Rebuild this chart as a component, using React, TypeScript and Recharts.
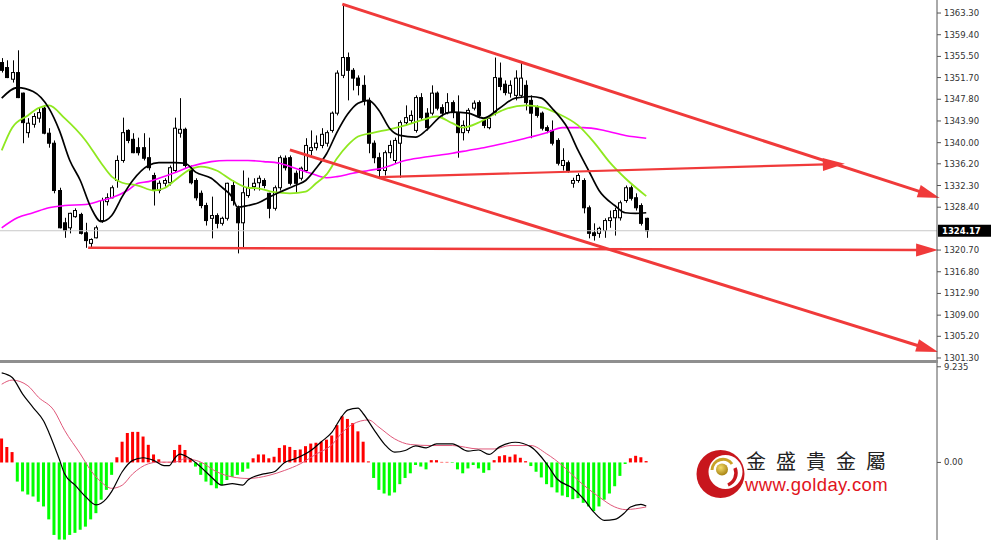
import React from 'react'
import { ComposedChart, Bar, Line, XAxis, YAxis, ReferenceLine, Cell } from 'recharts'

// candle OHLC, one entry per bar (left to right)
const opens = [
  1354.4, 1353.5, 1351.4, 1352.6, 1348.9, 1341.8, 1343.3, 1344.4, 1346.2, 1341.7,
  1339.9, 1331.4, 1325.6, 1324.7, 1326.7, 1327.1, 1323.8, 1321.9, 1322.9, 1326.0,
  1329.4, 1330.1, 1333.2, 1336.8, 1342.2, 1340.6, 1339.1, 1339.1, 1337.3, 1334.1,
  1331.4, 1332.7, 1332.8, 1335.0, 1341.7, 1342.4, 1335.0, 1333.2, 1330.9, 1328.7,
  1326.4, 1326.9, 1325.5, 1326.4, 1332.3, 1328.2, 1325.6, 1330.5, 1332.1, 1332.8,
  1333.2, 1330.9, 1328.2, 1331.9, 1337.2, 1337.3, 1334.5, 1333.6, 1335.0, 1338.6,
  1339.1, 1339.5, 1339.9, 1342.2, 1345.3, 1352.1, 1355.3, 1353.0, 1351.6, 1350.3,
  1347.6, 1339.9, 1337.3, 1335.0, 1338.2, 1336.8, 1339.9, 1343.6, 1344.0, 1342.2,
  1348.1, 1345.3, 1345.3, 1348.9, 1346.3, 1345.4, 1347.2, 1345.4, 1341.8, 1342.2,
  1346.2, 1347.2, 1344.0, 1342.7, 1345.4, 1351.6, 1350.5, 1348.9, 1348.5, 1348.5,
  1350.3, 1347.6, 1346.3, 1345.3, 1342.7, 1342.2, 1340.4, 1335.9, 1336.4, 1332.7,
  1333.2, 1333.2, 1328.3, 1323.8, 1323.7, 1324.2, 1326.0, 1326.5, 1326.5, 1329.6,
  1331.9, 1330.1, 1328.7, 1326.4,
]
const highs = [
  1355.2, 1354.8, 1354.8, 1356.6, 1349.0, 1344.4, 1345.3, 1346.3, 1346.7, 1342.6,
  1340.4, 1331.9, 1326.5, 1327.4, 1328.2, 1327.4, 1325.6, 1322.8, 1325.1, 1330.1,
  1330.9, 1332.3, 1337.7, 1344.5, 1342.4, 1341.7, 1340.9, 1341.7, 1340.9, 1334.6,
  1333.2, 1333.6, 1335.9, 1344.5, 1348.0, 1342.7, 1335.9, 1333.6, 1331.4, 1329.2,
  1330.3, 1327.3, 1326.7, 1332.8, 1333.2, 1328.7, 1335.0, 1333.7, 1333.6, 1334.1,
  1333.6, 1331.0, 1332.3, 1337.7, 1337.7, 1337.7, 1335.0, 1335.7, 1340.8, 1342.2,
  1341.3, 1342.6, 1342.2, 1345.6, 1353.0, 1364.9, 1356.2, 1353.4, 1352.1, 1352.1,
  1348.1, 1340.4, 1338.2, 1338.6, 1340.4, 1340.9, 1344.0, 1346.7, 1345.8, 1348.5,
  1348.9, 1346.2, 1350.3, 1349.2, 1346.9, 1348.9, 1347.6, 1348.5, 1344.0, 1346.2,
  1347.6, 1347.6, 1344.4, 1344.9, 1355.3, 1354.4, 1351.2, 1351.2, 1353.0, 1354.4,
  1351.2, 1348.5, 1346.7, 1345.6, 1343.1, 1344.0, 1340.8, 1339.0, 1336.8, 1333.7,
  1334.5, 1333.6, 1328.7, 1325.5, 1324.9, 1326.4, 1327.8, 1328.3, 1329.6, 1332.3,
  1332.3, 1330.9, 1329.1, 1326.5,
]
const lows = [
  1352.6, 1351.6, 1350.8, 1348.0, 1339.9, 1340.9, 1342.7, 1343.6, 1341.5, 1339.1,
  1330.9, 1324.6, 1322.9, 1323.7, 1326.5, 1323.5, 1321.1, 1321.0, 1322.8, 1325.6,
  1328.7, 1330.0, 1331.9, 1336.4, 1339.9, 1338.1, 1337.7, 1336.8, 1335.0, 1328.7,
  1330.9, 1332.1, 1332.3, 1334.6, 1340.9, 1335.5, 1332.5, 1329.6, 1328.2, 1325.1,
  1322.8, 1324.6, 1325.1, 1326.0, 1328.7, 1320.1, 1321.1, 1330.1, 1331.4, 1331.4,
  1331.8, 1326.4, 1327.8, 1331.4, 1335.0, 1332.3, 1331.0, 1333.2, 1334.6, 1337.7,
  1338.6, 1339.0, 1339.3, 1341.8, 1344.9, 1351.6, 1347.6, 1349.4, 1348.5, 1346.7,
  1338.1, 1336.3, 1333.6, 1334.1, 1337.2, 1336.3, 1333.7, 1343.1, 1343.5, 1341.8,
  1344.0, 1342.2, 1344.9, 1345.8, 1344.7, 1345.1, 1344.4, 1337.3, 1340.4, 1341.7,
  1345.8, 1344.4, 1342.6, 1342.4, 1344.9, 1349.4, 1348.5, 1348.1, 1347.6, 1348.0,
  1345.8, 1340.8, 1344.5, 1342.2, 1341.7, 1339.5, 1335.9, 1335.0, 1334.6, 1331.9,
  1332.8, 1327.3, 1322.8, 1322.4, 1322.9, 1322.9, 1324.7, 1323.3, 1326.0, 1329.2,
  1329.6, 1327.8, 1325.1, 1322.9,
]
const closes = [
  1353.0, 1351.7, 1352.6, 1348.1, 1343.6, 1343.5, 1344.7, 1345.4, 1341.7, 1339.9,
  1331.4, 1324.7, 1324.2, 1327.3, 1327.8, 1323.7, 1322.4, 1322.6, 1324.7, 1329.6,
  1330.1, 1331.9, 1336.8, 1341.8, 1340.4, 1338.2, 1338.2, 1337.2, 1335.5, 1331.4,
  1332.7, 1333.2, 1335.5, 1342.6, 1342.4, 1335.9, 1332.8, 1330.1, 1328.7, 1326.0,
  1326.9, 1325.5, 1326.4, 1332.7, 1329.6, 1325.6, 1331.0, 1331.9, 1332.7, 1333.6,
  1332.3, 1328.2, 1331.9, 1337.3, 1335.5, 1332.7, 1332.7, 1335.4, 1339.5, 1339.1,
  1339.9, 1341.5, 1341.8, 1345.3, 1352.5, 1355.3, 1353.0, 1351.6, 1350.3, 1347.6,
  1339.9, 1337.3, 1335.0, 1338.2, 1339.5, 1340.4, 1343.6, 1344.5, 1344.9, 1348.1,
  1344.5, 1342.7, 1348.9, 1346.2, 1345.3, 1347.2, 1345.4, 1341.8, 1343.1, 1345.8,
  1347.1, 1344.9, 1343.1, 1344.4, 1351.7, 1350.1, 1349.0, 1350.3, 1351.6, 1351.6,
  1347.2, 1345.3, 1344.9, 1342.6, 1342.2, 1339.9, 1336.3, 1336.8, 1335.0, 1333.2,
  1334.1, 1328.3, 1323.7, 1323.3, 1324.6, 1326.0, 1326.5, 1327.8, 1329.2, 1331.9,
  1330.0, 1328.3, 1325.5, 1324.17,
]

// moving averages: [bar index, price]
const fastMA: [number, number][] = [
  [0, 1348.0], [3, 1349.9], [6, 1349.2], [9, 1346.2], [11, 1342.2], [13, 1336.8], [15, 1333.2],
  [17, 1328.4], [19, 1325.8], [21, 1326.9], [23, 1330.3], [25, 1333.2], [28, 1335.9], [30, 1336.4],
  [33, 1336.4], [35, 1336.3], [37, 1334.7], [40, 1333.6], [42, 1332.0], [44, 1330.2], [45, 1328.4],
  [47, 1328.7], [49, 1329.2], [51, 1330.2], [53, 1331.1], [56, 1332.3], [58, 1333.2], [60, 1335.4],
  [62, 1338.0], [64, 1341.9], [66, 1345.1], [68, 1347.1], [70, 1347.6], [72, 1345.8], [74, 1342.6],
  [76, 1341.3], [79, 1341.0], [81, 1342.2], [84, 1344.9], [86, 1345.5], [89, 1345.3], [92, 1344.4],
  [95, 1346.2], [98, 1348.0], [101, 1348.3], [103, 1348.0], [105, 1346.2], [108, 1342.6], [110, 1338.6],
  [112, 1335.0], [114, 1331.4], [117, 1328.7], [119, 1327.4], [121, 1327.3], [123, 1327.4],
]
const midMA: [number, number][] = [
  [0, 1338.6], [2, 1342.7], [5, 1344.9], [7, 1346.2], [9, 1346.7], [12, 1344.4], [16, 1340.4],
  [19, 1336.3], [21, 1333.9], [23, 1332.8], [26, 1332.3], [29, 1331.4], [31, 1331.8], [33, 1333.2],
  [36, 1335.2], [38, 1335.7], [41, 1335.0], [44, 1333.2], [47, 1331.9], [49, 1331.8], [52, 1331.1],
  [55, 1330.9], [58, 1331.2], [60, 1332.7], [62, 1334.3], [64, 1337.2], [66, 1339.5], [68, 1341.1],
  [71, 1341.8], [74, 1342.4], [77, 1343.1], [80, 1344.0], [83, 1344.7], [86, 1343.5], [88, 1342.7],
  [91, 1343.6], [93, 1344.6], [96, 1346.0], [100, 1346.7], [103, 1346.4], [106, 1345.3], [110, 1343.1],
  [113, 1340.1], [116, 1336.5], [119, 1333.6], [123, 1330.4],
]
const slowMA: [number, number][] = [
  [0, 1324.7], [3, 1326.5], [6, 1327.4], [9, 1328.3], [12, 1328.7], [16, 1328.9], [19, 1329.6],
  [21, 1330.1], [24, 1331.4], [26, 1332.7], [28, 1333.0], [30, 1333.6], [33, 1334.6], [36, 1335.7],
  [40, 1336.6], [43, 1336.8], [47, 1336.8], [50, 1336.6], [53, 1336.3], [56, 1335.4], [59, 1334.5],
  [62, 1333.7], [64, 1333.9], [67, 1334.5], [70, 1335.0], [73, 1335.5], [77, 1336.8], [80, 1337.3],
  [83, 1337.7], [86, 1338.1], [89, 1338.6], [92, 1339.1], [96, 1339.9], [100, 1340.8], [104, 1341.8],
  [107, 1342.7], [111, 1342.7], [115, 1342.2], [119, 1341.3], [123, 1340.8],
]

// MACD histogram, one per bar
const histogram = [
  2.3, 1.5, 1.0, -1.85, -2.8, -3.1, -3.3, -3.8, -4.25, -5.5,
  -7.0, -7.45, -7.45, -7.0, -6.8, -6.5, -6.2, -5.5, -4.9, -3.6,
  -2.65, -1.2, 0.5, 2.0, 2.85, 2.95, 2.95, 2.5, 1.7, 0.77,
  0.3, 0.05, 0.05, 1.2, 1.7, 1.2, 0.4, -0.4, -1.2, -1.85,
  -2.2, -2.5, -2.2, -1.7, -1.4, -1.2, -0.9, -0.6, 0.4, 0.77,
  0.77, 0.4, 0.55, 1.4, 1.66, 1.5, 1.2, 1.25, 1.57, 1.82,
  1.9, 2.0, 2.2, 2.6, 3.6, 4.45, 4.2, 3.8, 3.0, 2.0,
  0.1, -1.5, -2.65, -3.0, -3.2, -2.9, -2.1, -1.5, -1.05, -0.25,
  -0.4, -0.67, 0.22, 0.22, 0.05, 0.05, -0.05, -0.67, -1.05, -0.58,
  -0.25, -0.58, -1.0, -0.75, 0.22, 0.6, 0.7, 0.55, 0.77, 0.45,
  0.12, -0.35, -0.9, -1.45, -2.1, -2.4, -2.9, -3.2, -3.35, -3.55,
  -3.45, -3.9, -4.25, -4.7, -4.25, -3.6, -3.0, -2.3, -1.3, -0.15,
  0.4, 0.64, 0.5, 0.13,
]
const difLine: [number, number][] = [
  [0, 8.65], [2, 8.2], [4, 6.6], [6, 5.3], [8, 4.0], [9, 2.9], [11, 0.3], [12, -1.1], [14, -2.2],
  [16, -3.3], [18, -4.1], [20, -3.5], [21, -2.8], [23, -0.9], [25, 0.2], [27, 0.45], [29, 0.2],
  [31, -0.3], [32, -0.3], [33, 0.4], [34, 0.8], [36, 0.35], [38, -0.45], [40, -1.4], [42, -2.2],
  [44, -2.05], [46, -2.2], [47, -1.7], [50, -1.1], [52, -0.9], [54, 0.0], [56, 0.35], [59, 1.15],
  [61, 2.0], [63, 2.9], [65, 4.5], [66, 5.05], [68, 5.25], [69, 4.7], [71, 3.2], [73, 1.8], [75, 1.0],
  [77, 1.15], [79, 1.6], [81, 1.4], [83, 1.8], [86, 1.8], [89, 1.1], [91, 1.2], [93, 0.77], [95, 1.5],
  [98, 1.95], [101, 1.5], [104, -0.13], [106, -1.6], [109, -2.5], [111, -3.5], [113, -4.8],
  [115, -5.6], [117, -5.5], [119, -4.8], [120, -4.3], [122, -4.05], [123, -4.2],
]
const deaLine: [number, number][] = [
  [0, 7.55], [2, 7.95], [5, 7.4], [7, 6.3], [10, 5.0], [12, 3.1], [15, 0.83], [17, -0.77], [19, -1.9],
  [21, -2.5], [23, -2.2], [25, -1.1], [28, -0.13], [30, 0.03], [33, 0.03], [35, 0.35], [38, 0.03],
  [41, -0.9], [44, -1.4], [47, -1.55], [51, -1.25], [54, -0.77], [57, -0.13], [60, 0.8], [63, 1.7],
  [65, 2.9], [67, 3.7], [70, 4.1], [72, 3.4], [75, 2.27], [78, 1.73], [82, 1.63], [86, 1.63], [91, 1.3],
  [94, 1.3], [97, 1.63], [101, 1.63], [104, 0.83], [107, -0.3], [110, -1.73], [114, -3.33],
  [117, -4.3], [119, -4.55], [123, -4.3],
]

// hand-drawn trend lines: [x1, y1, x2, y2] in bar index / price units, width
const trendLines: [number, number, number, number, number][] = [
  [65, 1364.9, 179.0, 1330.06, 3],
  [55.0, 1338.7, 178.7, 1302.4, 3],
  [72.2, 1333.8, 160.9, 1336.2, 2.2],
  [16.5, 1321.1, 178.7, 1320.7, 2.5],
]

const priceTicks = [1363.3, 1359.4, 1355.5, 1351.7, 1347.8, 1343.9, 1340.0, 1336.2, 1332.3, 1328.4, 1320.7, 1316.8, 1312.9, 1309.0, 1305.2, 1301.3]
const macdTicks = [9.235, 0]

const W = 991
const AXIS_W = 54
const RED = '#f03a3a'
const X_DOMAIN: [number, number] = [-0.3244, 178.49]
const lastPrice = closes[closes.length - 1]

const N = opens.length
function spread(pairs: [number, number][]) {
  const out: (number | null)[] = new Array(N).fill(null)
  pairs.forEach(([i, v]) => { out[i] = v })
  return out
}
const fastS = spread(fastMA)
const midS = spread(midMA)
const slowS = spread(slowMA)
const difS = spread(difLine)
const deaS = spread(deaLine)

const priceData = opens.map((o, i) => ({
  i, open: o, high: highs[i], low: lows[i], close: closes[i],
  fast: fastS[i], mid: midS[i], slow: slowS[i],
}))
const macdData = histogram.map((h, i) => ({ i, hist: h, dif: difS[i], dea: deaS[i] }))

function Candle(props: any) {
  const { x, y, width, height, payload } = props
  if (x == null || y == null || !payload) return null
  const top = Math.min(y, y + height)
  const h = Math.abs(height)
  const { open, high, low, close } = payload
  const k = high - low > 0 ? h / (high - low) : 0
  const c = Math.round(x + width / 2)
  const yo = top + (high - open) * k
  const yc = top + (high - close) * k
  const bt = Math.min(yo, yc)
  const bb = Math.max(yo, yc)
  const up = close >= open
  return (
    <g>
      <line x1={c + 0.5} x2={c + 0.5} y1={top} y2={top + h} stroke="#000" strokeWidth={1} />
      <rect x={c - 1.5} y={bt} width={3} height={Math.max(bb - bt, 1)} fill={up ? '#fff' : '#000'} stroke="#000" strokeWidth={1} />
    </g>
  )
}

function ArrowLine(props: any) {
  const { x1, y1, x2, y2, strokeWidth } = props
  if ([x1, y1, x2, y2].some(v => v == null || isNaN(v))) return null
  const dx = x2 - x1
  const dy = y2 - y1
  const len = Math.hypot(dx, dy) || 1
  const ux = dx / len
  const uy = dy / len
  const head = 22
  const half = 6.5
  const bx = x2 - ux * head
  const by = y2 - uy * head
  const pts = `${x2},${y2} ${bx - uy * half},${by + ux * half} ${bx + uy * half},${by - ux * half}`
  return (
    <g>
      <line x1={x1} y1={y1} x2={bx + ux * 3} y2={by + uy * 3} stroke={RED} strokeWidth={strokeWidth} />
      <polygon points={pts} fill={RED} />
    </g>
  )
}

function PriceTag(props: any) {
  const vb = props.viewBox
  if (!vb) return null
  const x = vb.x + vb.width
  const y = vb.y
  return (
    <g>
      <rect x={x + 1} y={y - 6} width={AXIS_W - 1} height={12} fill="#000" />
      <text x={x + 5} y={y + 3.5} fill="#fff" fontSize={8.5} fontWeight="bold" fontFamily="DejaVu Sans">
        {lastPrice.toFixed(2)}
      </text>
    </g>
  )
}

const tickStyle = { fill: '#333', fontSize: 8.5, fontFamily: 'DejaVu Sans' }

function Logo() {
  return (
    <svg width={220} height={60} style={{ position: 'absolute', left: 690, top: 440 }}>
      <defs>
        <radialGradient id="gold" cx="40%" cy="35%" r="65%">
          <stop offset="0%" stopColor="#f4dc6a" />
          <stop offset="100%" stopColor="#a88414" />
        </radialGradient>
      </defs>
      <circle cx={30.5} cy={34} r={24} fill="#c8161d" />
      <circle cx={35.5} cy={32} r={17} fill="#fff" />
      <path d="M 22 30 A 11 11 0 0 1 42 24" stroke="#c9a227" strokeWidth={3} fill="none" />
      <path d="M 45 28 A 13 13 0 0 1 38 45" stroke="#c8161d" strokeWidth={3.5} fill="none" />
      <circle cx={32} cy={29.5} r={6} fill="url(#gold)" />
      <text x={56} y={29} fontSize={20} fill="#222" letterSpacing={10} fontFamily="Noto Sans CJK TC">金盛貴金屬</text>
      <text x={55} y={50.5} fontSize={18.5} letterSpacing={0.4} fill="#e1141c" fontFamily="Liberation Sans">www.golday.com</text>
    </svg>
  )
}

export default function App() {
  return (
    <div style={{ position: 'absolute', left: 0, top: 0, width: W, height: 540, background: '#fff', overflow: 'hidden' }}>
      <style>{'.recharts-surface{overflow:visible}'}</style>
      <div style={{ position: 'absolute', left: 0, top: 360, width: 938, height: 3, background: '#8f8f8f' }} />
      <div style={{ position: 'absolute', left: 0, top: 0 }}>
        <ComposedChart width={W} height={360} data={priceData} margin={{ top: 0, right: 0, bottom: 0, left: 0 }}>
          <XAxis type="number" dataKey="i" domain={X_DOMAIN} hide allowDataOverflow />
          <YAxis
            orientation="right"
            width={AXIS_W}
            domain={[1300.94, 1365.64]}
            ticks={priceTicks}
            interval={0}
            allowDataOverflow
            tick={tickStyle}
            tickFormatter={(v: number) => v.toFixed(2)}
            tickSize={4}
            tickMargin={3}
            axisLine={{ stroke: '#555' }}
            tickLine={{ stroke: '#555' }}
          />
          <ReferenceLine y={lastPrice} stroke="#c8c8c8" strokeWidth={1} label={<PriceTag />} />
          <Bar dataKey={(d: any) => [d.low, d.high]} barSize={4} shape={<Candle />} isAnimationActive={false} />
          <Line dataKey="slow" type="monotone" stroke="#ff00ff" strokeWidth={1.6} dot={false} activeDot={false} connectNulls isAnimationActive={false} />
          <Line dataKey="mid" type="monotone" stroke="#8fe81f" strokeWidth={1.8} dot={false} activeDot={false} connectNulls isAnimationActive={false} />
          <Line dataKey="fast" type="monotone" stroke="#000" strokeWidth={1.7} dot={false} activeDot={false} connectNulls isAnimationActive={false} />
          {trendLines.map(([xa, ya, xb, yb, sw], k) => (
            <ReferenceLine
              key={k}
              segment={[{ x: xa, y: ya }, { x: xb, y: yb }]}
              ifOverflow="visible"
              stroke={RED}
              strokeWidth={sw}
              shape={<ArrowLine />}
            />
          ))}
        </ComposedChart>
      </div>
      <div style={{ position: 'absolute', left: 0, top: 363 }}>
        <ComposedChart width={W} height={177} data={macdData} margin={{ top: 0, right: 0, bottom: 0, left: 0 }}>
          <XAxis type="number" dataKey="i" domain={X_DOMAIN} hide allowDataOverflow />
          <YAxis
            orientation="right"
            width={AXIS_W}
            domain={[-7.49, 9.6]}
            ticks={macdTicks}
            interval={0}
            allowDataOverflow
            tick={tickStyle}
            tickFormatter={(v: number) => (v === 0 ? '0.00' : String(v))}
            tickSize={4}
            tickMargin={3}
            axisLine={{ stroke: '#555' }}
            tickLine={{ stroke: '#555' }}
          />
          <Bar dataKey="hist" barSize={3} isAnimationActive={false}>
            {macdData.map((d, k) => (
              <Cell key={k} fill={d.hist >= 0 ? '#ff0000' : '#00ff00'} />
            ))}
          </Bar>
          <Line dataKey="dea" type="monotone" stroke="#e0587a" strokeWidth={1} dot={false} activeDot={false} connectNulls isAnimationActive={false} />
          <Line dataKey="dif" type="monotone" stroke="#000" strokeWidth={1.2} dot={false} activeDot={false} connectNulls isAnimationActive={false} />
        </ComposedChart>
      </div>
      <Logo />
    </div>
  )
}
